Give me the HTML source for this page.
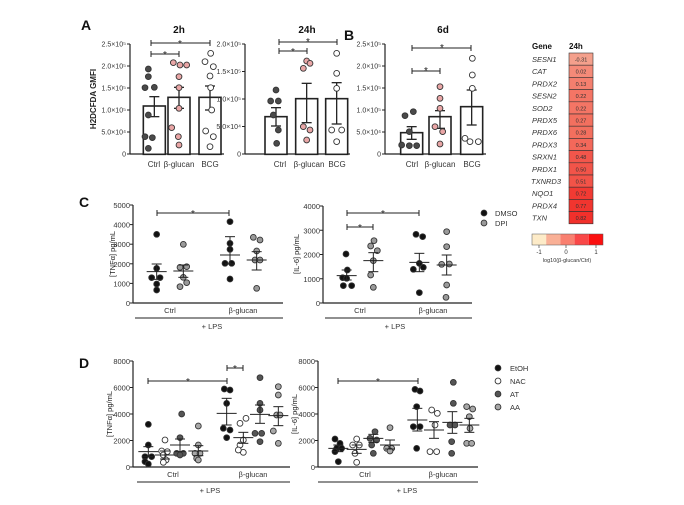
<!DOCTYPE html>
<html><head><meta charset="utf-8"><style>
html,body{margin:0;padding:0;background:#fff;}
svg{display:block;font-family:"Liberation Sans",sans-serif;}
.t{font-size:7.5px;fill:#333;}
.ta{font-size:7px;fill:#333;}
.ti{font-size:7.5px;fill:#333;font-style:italic;}
.b{font-weight:bold;fill:#111;}
.yl{font-size:8px;font-weight:bold;fill:#222;}
</style></head><body>
<svg id="s" width="684" height="505" viewBox="0 0 684 505" xmlns="http://www.w3.org/2000/svg">
<g id="g"></g>
<text x="81" y="30" class="b" font-size="14">A</text>
<text x="344" y="40" class="b" font-size="14">B</text>
<text x="79" y="207" class="b" font-size="14">C</text>
<text x="79" y="368" class="b" font-size="14">D</text>
<text x="179" y="33" class="b" font-size="10" text-anchor="middle">2h</text>
<text x="307" y="33" class="b" font-size="10" text-anchor="middle">24h</text>
<text x="443" y="33" class="b" font-size="10" text-anchor="middle">6d</text>
<text transform="translate(96,99) rotate(-90)" class="yl" text-anchor="middle">H2DCFDA GMFI</text>
<g class="ta" text-anchor="end">
<text x="126" y="156.5">0</text><text x="126" y="134.5">5.0×10⁴</text><text x="126" y="112.5">1.0×10⁵</text><text x="126" y="90.5">1.5×10⁵</text><text x="126" y="68.5">2.0×10⁵</text><text x="126" y="46.5">2.5×10⁵</text>
<text x="241" y="156.5">0</text><text x="241" y="129">5.0×10⁴</text><text x="241" y="101.5">1.0×10⁵</text><text x="241" y="74">1.5×10⁵</text><text x="241" y="46.5">2.0×10⁵</text>
<text x="381" y="156.5">0</text><text x="381" y="134.5">5.0×10⁴</text><text x="381" y="112.5">1.0×10⁵</text><text x="381" y="90.5">1.5×10⁵</text><text x="381" y="68.5">2.0×10⁵</text><text x="381" y="46.5">2.5×10⁵</text>
</g>
<g class="t" text-anchor="middle">
<text x="154" y="167" style="font-size:8px">Ctrl</text><text x="179" y="167" style="font-size:8px">β-glucan</text><text x="210" y="167" style="font-size:8px">BCG</text>
<text x="280" y="167" style="font-size:8px">Ctrl</text><text x="309" y="167" style="font-size:8px">β-glucan</text><text x="337" y="167" style="font-size:8px">BCG</text>
<text x="412" y="167" style="font-size:8px">Ctrl</text><text x="440" y="167" style="font-size:8px">β-glucan</text><text x="472" y="167" style="font-size:8px">BCG</text>
</g>
<g font-size="10" text-anchor="middle" fill="#222">
<text x="180" y="47">*</text><text x="165" y="58">*</text>
<text x="308" y="45">*</text><text x="293" y="55">*</text>
<text x="442" y="51">*</text><text x="426" y="74">*</text>
<text x="193" y="217">*</text><text x="383" y="217">*</text><text x="360" y="231">*</text>
<text x="188" y="385">*</text><text x="235" y="372">*</text><text x="378" y="385">*</text>
</g>
<text x="532" y="49" font-size="8" font-weight="bold" fill="#111">Gene</text>
<text x="569" y="49" font-size="8" font-weight="bold" fill="#111">24h</text>
<g class="ti">
<text x="532" y="62">SESN1</text><text x="532" y="74.2">CAT</text><text x="532" y="86.4">PRDX2</text><text x="532" y="98.6">SESN2</text><text x="532" y="110.8">SOD2</text><text x="532" y="123">PRDX5</text><text x="532" y="135.2">PRDX6</text><text x="532" y="147.4">PRDX3</text><text x="532" y="159.6">SRXN1</text><text x="532" y="171.8">PRDX1</text><text x="531" y="184">TXNRD3</text><text x="532" y="196.2">NQO1</text><text x="532" y="208.4">PRDX4</text><text x="532" y="220.6">TXN</text>
</g>
<g id="hm"></g>
<g font-size="5.5" fill="#333" text-anchor="middle">
<text x="581" y="61.5">-0.31</text><text x="581" y="73.7">0.02</text><text x="581" y="85.9">0.13</text><text x="581" y="98.1">0.22</text><text x="581" y="110.3">0.22</text><text x="581" y="122.5">0.27</text><text x="581" y="134.7">0.28</text><text x="581" y="146.9">0.34</text><text x="581" y="159.1">0.48</text><text x="581" y="171.3">0.50</text><text x="581" y="183.5">0.51</text><text x="581" y="195.7">0.72</text><text x="581" y="207.9">0.77</text><text x="581" y="220.1">0.82</text>
<text x="539" y="254" font-size="6">-1</text><text x="566" y="254" font-size="6">0</text><text x="596" y="254" font-size="6">1</text>
<text x="567" y="262" font-size="5.5">log10(β-glucan/Ctrl)</text>
</g>
<text transform="translate(115,254) rotate(-90)" font-size="7.5" fill="#222" text-anchor="middle">[TNFα] pg/mL</text>
<text transform="translate(299,254) rotate(-90)" font-size="7.5" fill="#222" text-anchor="middle">[IL-6] pg/mL</text>
<g class="t" text-anchor="end">
<text x="130" y="306">0</text><text x="130" y="286.4">1000</text><text x="130" y="266.8">2000</text><text x="130" y="247.2">3000</text><text x="130" y="227.6">4000</text><text x="130" y="208">5000</text>
<text x="320" y="306">0</text><text x="320" y="281.75">1000</text><text x="320" y="257.5">2000</text><text x="320" y="233.25">3000</text><text x="320" y="209">4000</text>
</g>
<g class="t" text-anchor="middle">
<text x="170" y="313">Ctrl</text><text x="243" y="313">β-glucan</text><text x="212" y="329">+ LPS</text>
<text x="360" y="313">Ctrl</text><text x="433" y="313">β-glucan</text><text x="395" y="329">+ LPS</text>
</g>
<g class="t"><text x="495" y="216">DMSO</text><text x="495" y="226">DPI</text></g>
<text transform="translate(112,414) rotate(-90)" font-size="7.5" fill="#222" text-anchor="middle">[TNFα] pg/mL</text>
<text transform="translate(297,414) rotate(-90)" font-size="7.5" fill="#222" text-anchor="middle">[IL-6] pg/mL</text>
<g class="t" text-anchor="end">
<text x="130" y="470">0</text><text x="130" y="443.5">2000</text><text x="130" y="417">4000</text><text x="130" y="390.5">6000</text><text x="130" y="364">8000</text>
<text x="315" y="470">0</text><text x="315" y="443.5">2000</text><text x="315" y="417">4000</text><text x="315" y="390.5">6000</text><text x="315" y="364">8000</text>
</g>
<g class="t" text-anchor="middle">
<text x="173" y="477">Ctrl</text><text x="253" y="477">β-glucan</text><text x="210" y="493">+ LPS</text>
<text x="365" y="477">Ctrl</text><text x="443" y="477">β-glucan</text><text x="407" y="493">+ LPS</text>
</g>
<g class="t"><text x="510" y="371">EtOH</text><text x="510" y="384">NAC</text><text x="510" y="397">AT</text><text x="510" y="410">AA</text></g>
</svg>
<script>
var NS="http://www.w3.org/2000/svg",G=document.getElementById('g');
function el(t,a,p){var e=document.createElementNS(NS,t);for(var k in a)e.setAttribute(k,a[k]);(p||G).appendChild(e);return e;}
function L(x1,y1,x2,y2,w){el('line',{x1:x1,y1:y1,x2:x2,y2:y2,stroke:'#222','stroke-width':w||1});}
function C(x,y,f){el('circle',{cx:x,cy:y,r:2.9,fill:f,stroke:'#333','stroke-width':0.9});}
function axis(x,y0,y1,ticks,xend){L(x,y0,x,y1,1.2);for(var i=0;i<ticks;i++){var y=y0+(y1-y0)*i/(ticks-1);L(x-3,y,x,y);} if(xend)L(x,y0,xend,y0,1.2);}
function br(x1,x2,y,h){L(x1,y,x2,y);L(x1,y-3,x1,y+(h||3));L(x2,y-3,x2,y+(h||3));}
function grp(ox,oy,pts,f){pts.forEach(function(p){C(ox+p[0]/3,oy+p[1]/3,f);});}
function sem(ox,oy,cx,m,lo,hi,hw){var x=ox+cx/3;L(x,oy+lo/3,x,oy+hi/3);L(x-hw/2,oy+m/3,x+hw/2,oy+m/3);L(x-hw/4,oy+lo/3,x+hw/4,oy+lo/3);L(x-hw/4,oy+hi/3,x+hw/4,oy+hi/3);}
function bar(ox,oy,cx,top,lo,hi){var x=ox+cx/3;el('rect',{x:x-11,y:oy+top/3,width:22,height:(463-top)/3,fill:'#fff',stroke:'#222','stroke-width':1.6});L(x,oy+lo/3,x,oy+hi/3,1.3);L(x-5,oy+lo/3,x+5,oy+lo/3,1.3);L(x-5,oy+hi/3,x+5,oy+hi/3,1.3);}
axis(130,154,44,6);L(130,154,224,154,1.2);
axis(245,154,44,5);L(245,154,350,154,1.2);
axis(385,154,44,6);L(385,154,486,154,1.2);
var ox=60,oy=0,DK='#4a4a4a',PK='#e9a6a6',WH='#fff';
bar(ox,oy,283,318,290,350);bar(ox,oy,357,292,262,325);bar(ox,oy,450,292,258,330);
bar(ox,oy,648,350,323,378);bar(ox,oy,740,296,250,368);bar(ox,oy,830,296,248,372);
bar(ox,oy,1055,398,380,418);bar(ox,oy,1140,350,332,385);bar(ox,oy,1235,320,270,375);
grp(ox,oy,[[265,207],[265,230],[255,263],[283,262],[265,345],[255,410],[277,413],[265,445]],DK);
grp(ox,oy,[[340,188],[360,195],[380,195],[357,230],[357,263],[357,325],[335,383],[355,410],[357,435]],PK);
grp(ox,oy,[[452,160],[435,185],[460,200],[450,228],[452,263],[455,330],[437,393],[460,410],[450,440]],WH);
grp(ox,oy,[[648,270],[632,303],[655,303],[640,345],[655,390],[650,430]],DK);
grp(ox,oy,[[740,183],[730,205],[750,190],[730,380],[750,390],[740,420]],PK);
grp(ox,oy,[[830,160],[830,220],[830,265],[815,390],[845,390],[830,425]],WH);
grp(ox,oy,[[1035,347],[1060,335],[1048,395],[1025,435],[1048,437],[1070,437]],DK);
grp(ox,oy,[[1140,260],[1140,295],[1140,325],[1125,380],[1148,395],[1140,432]],PK);
grp(ox,oy,[[1237,175],[1237,225],[1237,265],[1215,415],[1230,425],[1255,425]],WH);
br(151,210,43);br(151,179,54);br(279,337,42);br(279,307,51);br(412,471,48);br(412,440,71);
var H=document.getElementById('hm');
var cols=['#f4a08c','#f58a78','#f47f6e','#f47565','#f47565','#f3705f','#f36f5e','#f3685a','#f2564b','#f25449','#f25348','#f13a33','#f1352f','#f1302b'];
for(var i=0;i<14;i++)el('rect',{x:569,y:53+i*12.2,width:24,height:12.2,fill:cols[i],stroke:'#333','stroke-width':0.6},H);
var cb=['#fdebc8','#f9b096','#f98070','#f94848','#fb1010'];
for(i=0;i<5;i++)el('rect',{x:532+i*14.2,y:234,width:14.2,height:11,fill:cb[i]},H);
el('rect',{x:532,y:234,width:71,height:11,fill:'none',stroke:'#555','stroke-width':0.5},H);
[539,566,596].forEach(function(x){L(x,245,x,248,0.6);});
axis(133,303,205,6,283);axis(323,303,206,5,472);
L(135,318,283,318);L(325,318,472,318);
ox=80;oy=190;var BK='#111',GR='#9a9a9a';
grp(ox,oy,[[230,133],[230,235],[215,263],[240,263],[230,282],[230,300]],BK);sem(ox,oy,230,245,222,268,20);
grp(ox,oy,[[310,163],[300,232],[320,230],[310,262],[300,290],[320,278]],GR);sem(ox,oy,310,243,225,262,20);
grp(ox,oy,[[450,95],[450,160],[450,178],[435,220],[455,220],[450,267]],BK);sem(ox,oy,450,195,140,222,20);
grp(ox,oy,[[520,142],[540,150],[530,183],[525,210],[540,210],[530,295]],GR);sem(ox,oy,530,210,185,240,20);
grp(ox,oy,[[798,192],[802,240],[788,263],[815,287],[790,287],[800,265]],BK);sem(ox,oy,800,257,240,270,20);
grp(ox,oy,[[882,152],[872,168],[892,182],[880,212],[872,255],[880,292]],GR);sem(ox,oy,880,212,188,245,20);
grp(ox,oy,[[1008,133],[1028,140],[1018,220],[1000,238],[1030,232],[1018,308]],BK);sem(ox,oy,1018,217,190,245,20);
grp(ox,oy,[[1100,125],[1100,170],[1085,223],[1108,222],[1100,285],[1098,322]],GR);sem(ox,oy,1100,225,195,255,20);
br(157,229,213,0);br(347,419,213,0);br(347,373,227,0);
C(484,213,BK);C(484,223,GR);
axis(133,467,361,5,290);axis(318,467,361,5,478);
L(137,482,290,482);L(318,482,478,482);
ox=80;oy=345;var AT='#555',AA='#a8a8a8';
grp(ox,oy,[[205,238],[205,300],[195,335],[215,335],[195,350],[205,357]],BK);sem(ox,oy,205,320,305,335,20);
grp(ox,oy,[[255,285],[245,318],[262,320],[250,330],[258,345],[250,352]],WH);sem(ox,oy,255,330,318,342,20);
grp(ox,oy,[[305,207],[300,278],[290,325],[310,325],[300,330]],AT);sem(ox,oy,300,300,282,320,20);
grp(ox,oy,[[355,243],[355,300],[345,325],[360,325],[350,340],[355,345]],AA);sem(ox,oy,355,318,302,332,20);
grp(ox,oy,[[433,132],[450,135],[440,175],[430,250],[450,255],[440,278]],BK);sem(ox,oy,440,205,160,240,20);
grp(ox,oy,[[480,235],[498,220],[490,285],[480,300],[490,322],[475,315]],WH);sem(ox,oy,490,278,262,295,20);
grp(ox,oy,[[540,98],[540,175],[540,195],[525,265],[545,265],[540,290]],AT);sem(ox,oy,540,208,180,235,20);
grp(ox,oy,[[595,125],[595,150],[590,210],[600,210],[580,258],[595,295]],AA);sem(ox,oy,595,212,185,242,20);
grp(ox,oy,[[765,282],[780,295],[770,310],[785,310],[765,320],[775,350]],BK);sem(ox,oy,775,310,300,320,20);
grp(ox,oy,[[830,282],[818,300],[838,300],[825,325],[830,352]],WH);sem(ox,oy,830,313,300,325,20);
grp(ox,oy,[[885,260],[870,280],[890,285],[875,300],[880,325]],AT);sem(ox,oy,880,280,268,292,20);
grp(ox,oy,[[930,248],[920,310],[935,310],[930,318]],AA);sem(ox,oy,930,300,285,312,20);
grp(ox,oy,[[1005,133],[1020,138],[1010,185],[1000,245],[1020,245],[1010,310]],BK);sem(ox,oy,1012,225,190,258,20);
grp(ox,oy,[[1055,195],[1072,205],[1065,240],[1050,320],[1070,320]],WH);sem(ox,oy,1062,255,230,280,20);
grp(ox,oy,[[1120,112],[1120,175],[1110,240],[1125,240],[1115,290],[1115,325]],AT);sem(ox,oy,1117,232,200,265,20);
grp(ox,oy,[[1160,185],[1178,192],[1168,215],[1160,295],[1175,295],[1170,250]],AA);sem(ox,oy,1168,240,220,262,20);
br(148,227,381,0);br(227,243,368,0);br(338,418,381,0);
C(498,368,BK);C(498,381,WH);C(498,394,AT);C(498,407,AA);
</script>
</body></html>
